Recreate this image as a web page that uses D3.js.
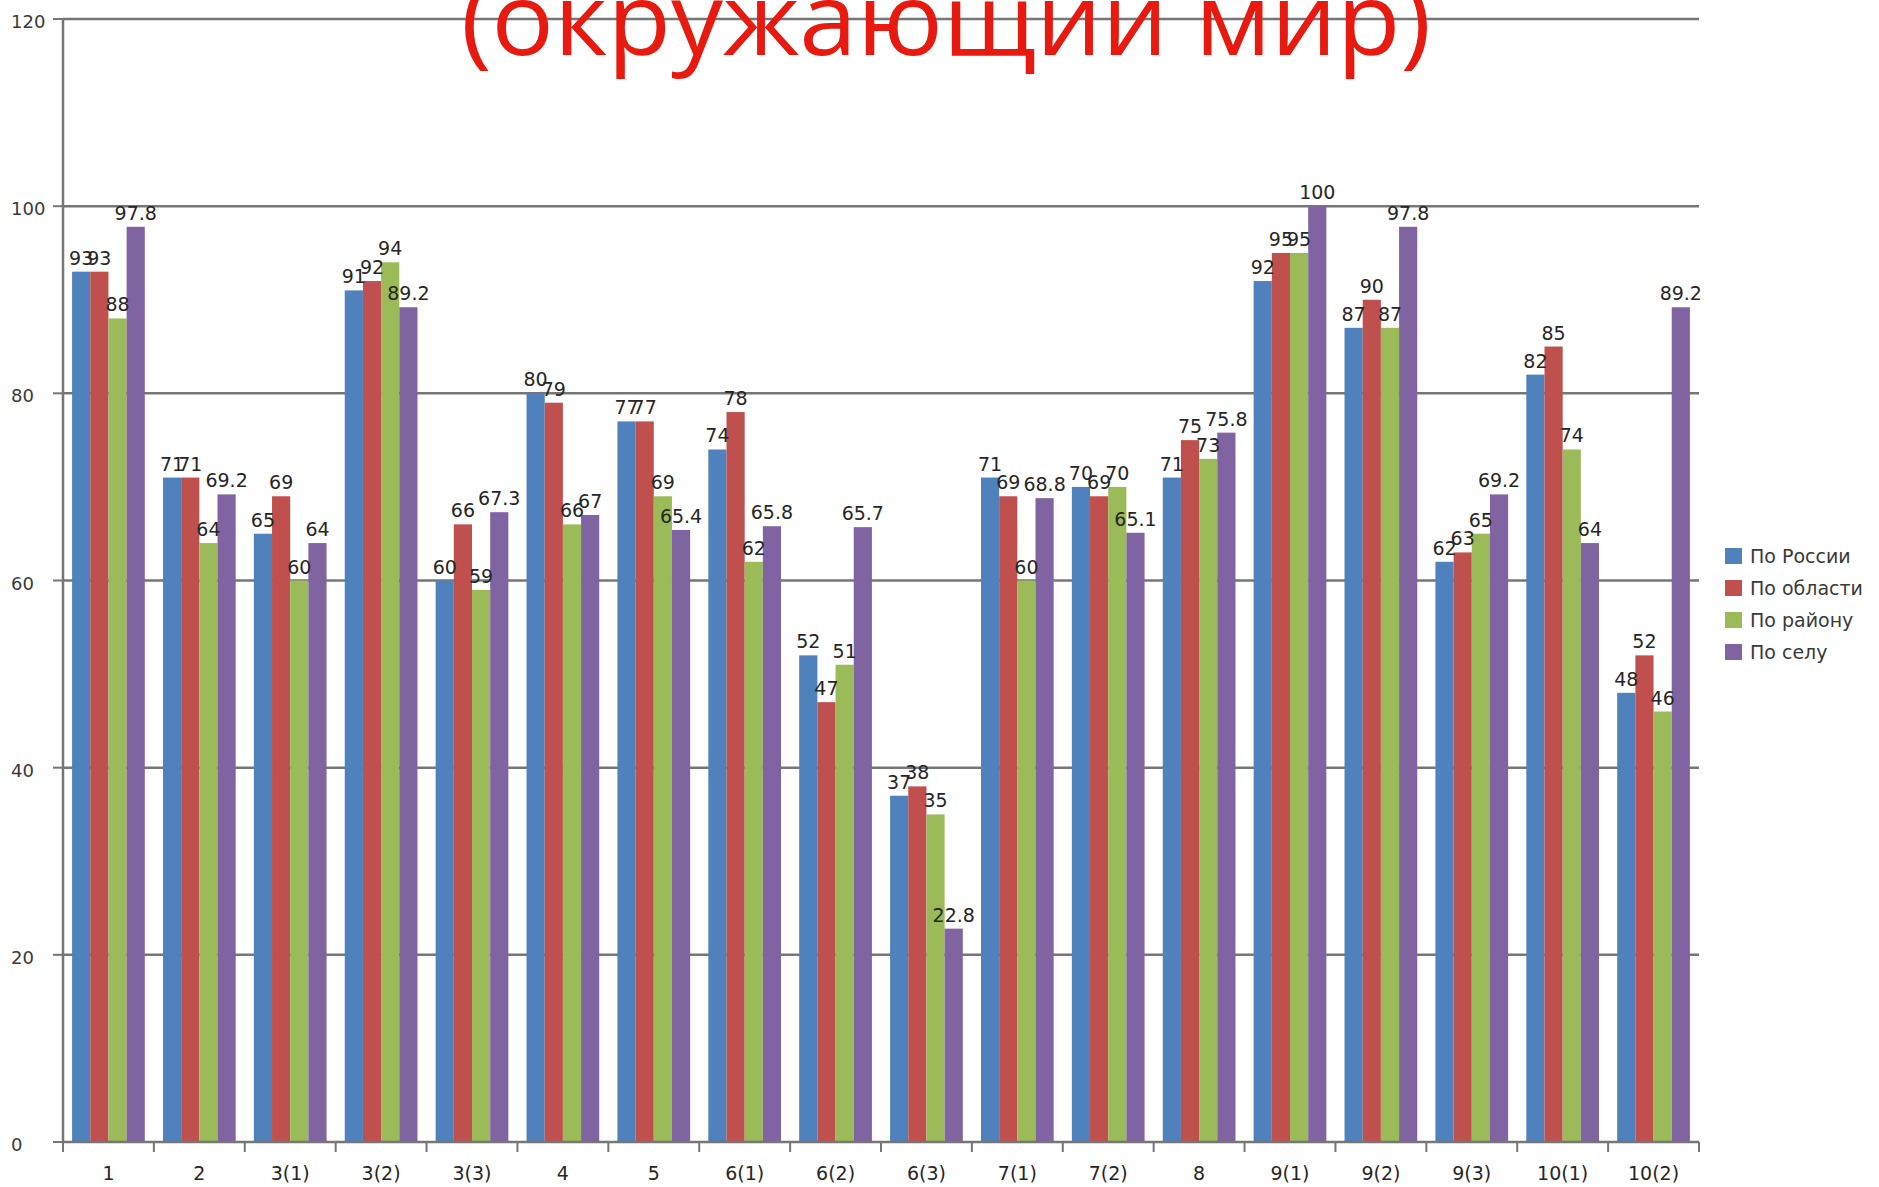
<!DOCTYPE html>
<html>
<head>
<meta charset="utf-8">
<script src="https://cdn.jsdelivr.net/npm/d3@7"></script>
<style>
  html, body { margin: 0; padding: 0; background: #ffffff; }
  svg { display: block; }
</style>
</head>
<body>
<svg id="chart" width="1879" height="1187"></svg>
<script>
const categories = ["1", "2", "3(1)", "3(2)", "3(3)", "4", "5", "6(1)", "6(2)", "6(3)", "7(1)", "7(2)", "8", "9(1)", "9(2)", "9(3)", "10(1)", "10(2)"];
const seriesNames = ["По России", "По области", "По району", "По селу"];
const russia = [93, 71, 65, 91, 60, 80, 77, 74, 52, 37, 71, 70, 71, 92, 87, 62, 82, 48];
const oblast = [93, 71, 69, 92, 66, 79, 77, 78, 47, 38, 69, 69, 75, 95, 90, 63, 85, 52];
const rayon  = [88, 64, 60, 94, 59, 66, 69, 62, 51, 35, 60, 70, 73, 95, 87, 65, 74, 46];
const selo   = [97.8, 69.2, 64, 89.2, 67.3, 67, 65.4, 65.8, 65.7, 22.8, 68.8, 65.1, 75.8, 100, 97.8, 69.2, 64, 89.2];
const yTicks = [0, 20, 40, 60, 80, 100, 120];
const titleText = "(окружающий мир)";
const colors = ["#4F81BD", "#C0504D", "#9BBB59", "#8064A2"];

(function () {
const seriesValues = [russia, oblast, rayon, selo];

const svg = d3.select("#chart");
const pLeft = 63, pRight = 1699, pTop = 19, pBottom = 1142;

const x0 = d3.scaleBand().domain(categories).range([pLeft, pRight]).paddingInner(0.2).paddingOuter(0.1);
const x1 = d3.scaleBand().domain(d3.range(4)).range([0, x0.bandwidth()]).padding(0);
const y = d3.scaleLinear().domain([0, 120]).range([pBottom, pTop]);
const xEdges = d3.scalePoint().domain(d3.range(categories.length + 1)).range([pLeft, pRight]);

// gridlines
svg.append("g").selectAll("line").data(yTicks.filter(d => d > 0)).join("line")
  .attr("x1", pLeft).attr("x2", pRight)
  .attr("y1", d => y(d)).attr("y2", d => y(d))
  .attr("stroke", "#767676").attr("stroke-width", 2.5);

// title
svg.append("text")
  .attr("x", 461).attr("y", 55)
  .attr("textLength", 970).attr("lengthAdjust", "spacingAndGlyphs")
  .attr("font-family", "'Open Sans', 'Noto Sans', sans-serif")
  .attr("font-size", 100)
  .attr("fill", "#E8190F")
  .text(titleText);

// bars
const groups = svg.append("g").selectAll("g").data(categories).join("g")
  .attr("transform", d => `translate(${x0(d)},0)`);

groups.selectAll("rect").data((c, i) => seriesValues.map((s, k) => ({k, v: s[i]}))).join("rect")
  .attr("x", d => x1(d.k))
  .attr("width", x1.bandwidth())
  .attr("y", d => y(d.v))
  .attr("height", d => y(0) - y(d.v))
  .attr("fill", d => colors[d.k]);

groups.selectAll("text").data((c, i) => seriesValues.map((s, k) => ({k, v: s[i]}))).join("text")
  .attr("x", d => x1(d.k) + x1.bandwidth() / 2)
  .attr("y", d => y(d.v) - 7)
  .attr("text-anchor", "middle")
  .attr("font-family", "'DejaVu Sans', Verdana, sans-serif")
  .attr("font-size", 19)
  .attr("fill", "#262626")
  .text(d => d.v);

// y axis line
svg.append("line").attr("x1", pLeft).attr("x2", pLeft).attr("y1", pTop).attr("y2", pBottom)
  .attr("stroke", "#767676").attr("stroke-width", 2.5);
// y ticks
svg.append("g").selectAll("line").data(yTicks).join("line")
  .attr("x1", pLeft - 10).attr("x2", pLeft).attr("y1", d => y(d)).attr("y2", d => y(d))
  .attr("stroke", "#767676").attr("stroke-width", 2);
svg.append("g").selectAll("text").data(yTicks).join("text")
  .attr("x", 11).attr("y", d => y(d) + 9)
  .attr("font-family", "'DejaVu Sans', Verdana, sans-serif")
  .attr("font-size", 18).attr("fill", "#3a3a3a")
  .text(d => d);

// x axis line
svg.append("line").attr("x1", pLeft).attr("x2", pRight).attr("y1", pBottom).attr("y2", pBottom)
  .attr("stroke", "#767676").attr("stroke-width", 2.5);
svg.append("g").selectAll("line").data(d3.range(categories.length + 1)).join("line")
  .attr("x1", d => xEdges(d)).attr("x2", d => xEdges(d))
  .attr("y1", pBottom).attr("y2", pBottom + 10)
  .attr("stroke", "#767676").attr("stroke-width", 2);
svg.append("g").selectAll("text").data(categories).join("text")
  .attr("x", d => x0(d) + x0.bandwidth() / 2)
  .attr("y", pBottom + 38)
  .attr("text-anchor", "middle")
  .attr("font-family", "'DejaVu Sans', Verdana, sans-serif")
  .attr("font-size", 19).attr("fill", "#262626")
  .text(d => d);

// legend
const lg = svg.append("g").selectAll("g").data(seriesNames).join("g")
  .attr("transform", (d, i) => `translate(1725, ${556 + i * 32})`);
lg.append("rect").attr("x", 0).attr("y", -8).attr("width", 17).attr("height", 16)
  .attr("fill", (d, i) => colors[i]);
lg.append("text").attr("x", 25).attr("y", 7)
  .attr("font-family", "'DejaVu Sans', Verdana, sans-serif")
  .attr("font-size", 19).attr("fill", "#3a3a3a")
  .text(d => d);
})();
</script>
</body>
</html>
